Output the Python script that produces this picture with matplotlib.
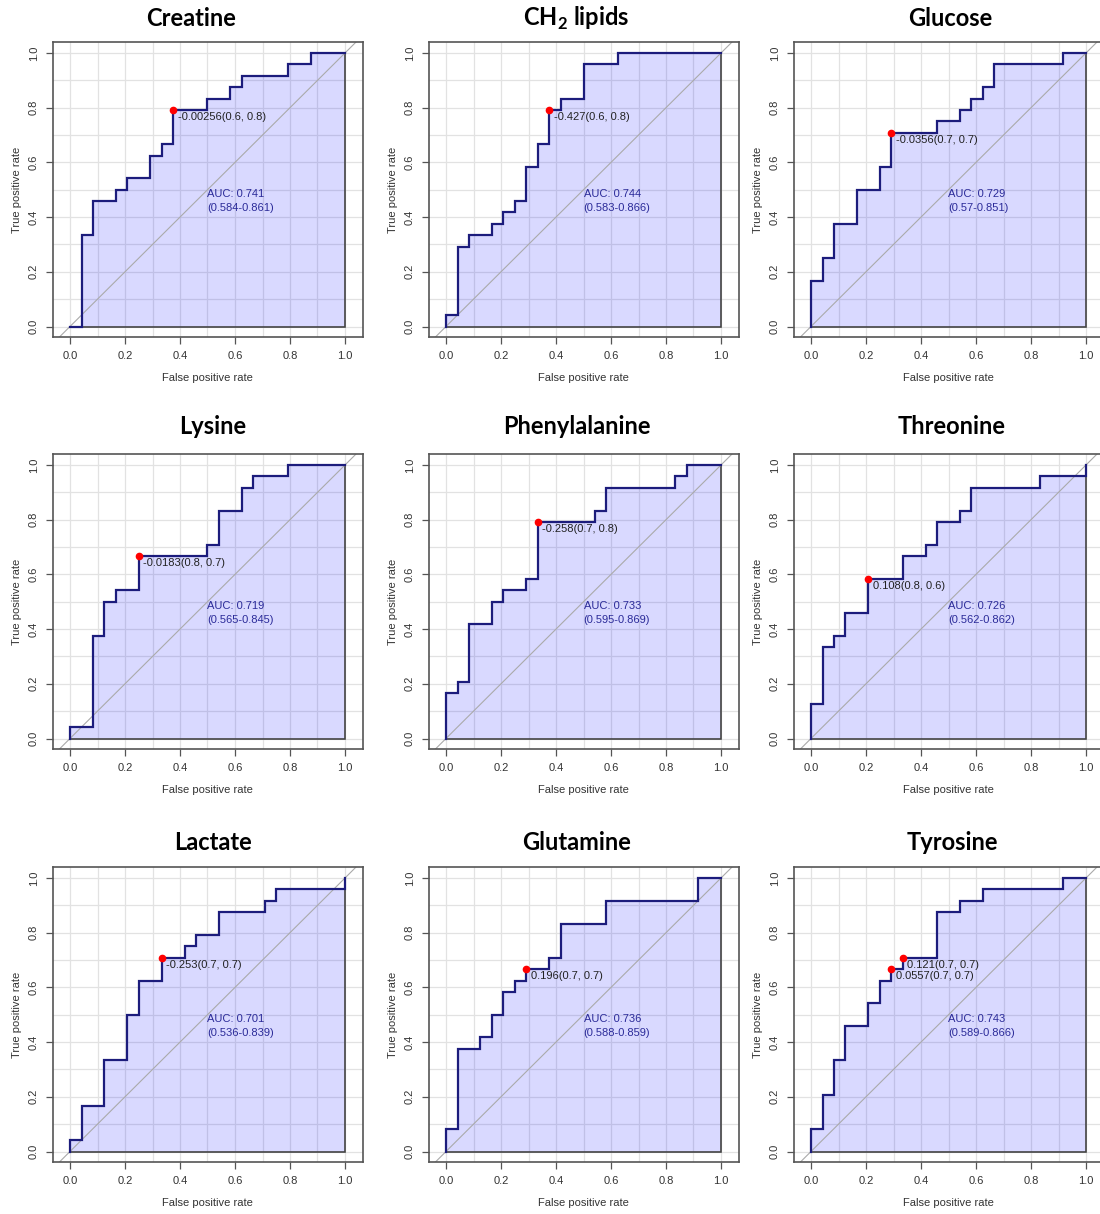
import numpy as np
import matplotlib
matplotlib.use("Agg")
import matplotlib.pyplot as plt

plt.rcParams["font.family"] = ["Liberation Sans", "DejaVu Sans"]
plt.rcParams["mathtext.fontset"] = "custom"
plt.rcParams["mathtext.rm"] = "Lato"
plt.rcParams["mathtext.bf"] = "Lato:bold"

# ROC step data: at each FPR the TPR jumps to the listed value (post step)
CREATINE_FPR = [0.000, 0.042, 0.083, 0.167, 0.208, 0.292, 0.333, 0.375, 0.500, 0.583, 0.625, 0.792, 0.875, 1.000]
CREATINE_TPR = [0.000, 0.333, 0.458, 0.500, 0.542, 0.625, 0.667, 0.792, 0.833, 0.875, 0.917, 0.958, 1.000, 1.000]

CH2_FPR = [0.000, 0.000, 0.042, 0.083, 0.167, 0.208, 0.250, 0.292, 0.333, 0.375, 0.417, 0.500, 0.625, 1.000]
CH2_TPR = [0.000, 0.042, 0.292, 0.333, 0.375, 0.417, 0.458, 0.583, 0.667, 0.792, 0.833, 0.958, 1.000, 1.000]

GLUCOSE_FPR = [0.000, 0.000, 0.042, 0.083, 0.167, 0.250, 0.292, 0.458, 0.542, 0.583, 0.625, 0.667, 0.917, 1.000]
GLUCOSE_TPR = [0.000, 0.167, 0.250, 0.375, 0.500, 0.583, 0.708, 0.750, 0.792, 0.833, 0.875, 0.958, 1.000, 1.000]

LYSINE_FPR = [0.000, 0.000, 0.083, 0.125, 0.167, 0.250, 0.500, 0.542, 0.625, 0.667, 0.792, 1.000]
LYSINE_TPR = [0.000, 0.042, 0.375, 0.500, 0.542, 0.667, 0.708, 0.833, 0.917, 0.958, 1.000, 1.000]

PHENYL_FPR = [0.000, 0.000, 0.042, 0.083, 0.167, 0.208, 0.292, 0.333, 0.542, 0.583, 0.833, 0.875, 1.000]
PHENYL_TPR = [0.000, 0.167, 0.208, 0.417, 0.500, 0.542, 0.583, 0.792, 0.833, 0.917, 0.958, 1.000, 1.000]

THREONINE_FPR = [0.000, 0.000, 0.042, 0.083, 0.125, 0.208, 0.333, 0.417, 0.458, 0.542, 0.583, 0.833, 1.000]
THREONINE_TPR = [0.000, 0.125, 0.333, 0.375, 0.458, 0.583, 0.667, 0.708, 0.792, 0.833, 0.917, 0.958, 1.000]

LACTATE_FPR = [0.000, 0.000, 0.042, 0.125, 0.208, 0.250, 0.333, 0.417, 0.458, 0.542, 0.708, 0.750, 1.000]
LACTATE_TPR = [0.000, 0.042, 0.167, 0.333, 0.500, 0.625, 0.708, 0.750, 0.792, 0.875, 0.917, 0.958, 1.000]

GLUTAMINE_FPR = [0.000, 0.000, 0.042, 0.125, 0.167, 0.208, 0.250, 0.292, 0.375, 0.417, 0.583, 0.917, 1.000]
GLUTAMINE_TPR = [0.000, 0.083, 0.375, 0.417, 0.500, 0.583, 0.625, 0.667, 0.708, 0.833, 0.917, 1.000, 1.000]

TYROSINE_FPR = [0.000, 0.000, 0.042, 0.083, 0.125, 0.208, 0.250, 0.292, 0.333, 0.458, 0.542, 0.625, 0.917, 1.000]
TYROSINE_TPR = [0.000, 0.083, 0.208, 0.333, 0.458, 0.542, 0.625, 0.667, 0.708, 0.875, 0.917, 0.958, 1.000, 1.000]

TITLES = ["Creatine", r"CH$_\mathbf{2}$ lipids", "Glucose",
          "Lysine", "Phenylalanine", "Threonine",
          "Lactate", "Glutamine", "Tyrosine"]
CURVES = [
    (CREATINE_FPR, CREATINE_TPR), (CH2_FPR, CH2_TPR), (GLUCOSE_FPR, GLUCOSE_TPR),
    (LYSINE_FPR, LYSINE_TPR), (PHENYL_FPR, PHENYL_TPR), (THREONINE_FPR, THREONINE_TPR),
    (LACTATE_FPR, LACTATE_TPR), (GLUTAMINE_FPR, GLUTAMINE_TPR), (TYROSINE_FPR, TYROSINE_TPR),
]
AUC = [0.741, 0.744, 0.729, 0.719, 0.733, 0.726, 0.701, 0.736, 0.743]
AUC_CI = ["0.584-0.861", "0.583-0.866", "0.57-0.851",
          "0.565-0.845", "0.595-0.869", "0.562-0.862",
          "0.536-0.839", "0.588-0.859", "0.589-0.866"]
BEST = [
    [(0.375, 0.792, "-0.00256(0.6, 0.8)")],
    [(0.375, 0.792, "-0.427(0.6, 0.8)")],
    [(0.292, 0.708, "-0.0356(0.7, 0.7)")],
    [(0.250, 0.667, "-0.0183(0.8, 0.7)")],
    [(0.333, 0.792, "-0.258(0.7, 0.8)")],
    [(0.208, 0.583, "0.108(0.8, 0.6)")],
    [(0.333, 0.708, "-0.253(0.7, 0.7)")],
    [(0.292, 0.667, "0.196(0.7, 0.7)")],
    [(0.333, 0.708, "0.121(0.7, 0.7)"), (0.292, 0.667, "0.0557(0.7, 0.7)")],
]

W, H = 1100, 1214
COL_ZERO = [70, 446, 811]      # pixel x of fpr = 0
ROW_ONE = [53, 465, 878]       # pixel y of tpr = 1
TITLE_X = [[191, 576, 950], [213, 577, 952], [213, 577, 952]]
TITLE_Y = [18, 427, 843]
UNIT_X, UNIT_Y = 275.0, 273.5
XLIM = (-0.063, 1.065)
YLIM = (-0.04, 1.04)

LINE = "#1c1c7c"
FRAME = "#555555"

fig = plt.figure(figsize=(W / 100, H / 100), dpi=100)

for i, (title, (fpr, tpr)) in enumerate(zip(TITLES, CURVES)):
    r, c = divmod(i, 3)
    left = COL_ZERO[c] + XLIM[0] * UNIT_X
    top = ROW_ONE[r] - (YLIM[1] - 1) * UNIT_Y
    aw = (XLIM[1] - XLIM[0]) * UNIT_X
    ah = (YLIM[1] - YLIM[0]) * UNIT_Y
    ax = fig.add_axes([left / W, 1 - (top + ah) / H, aw / W, ah / H])
    ax.set_xlim(*XLIM)
    ax.set_ylim(*YLIM)

    for g in np.arange(0, 1.01, 0.1):
        ax.axvline(g, color="#e2e2e2", lw=0.9, zorder=0)
        ax.axhline(g, color="#e2e2e2", lw=0.9, zorder=0)

    fpr = np.asarray(fpr)
    tpr = np.asarray(tpr)
    xs = np.repeat(fpr, 2)[1:]
    ys = np.repeat(tpr, 2)[:-1]
    px = np.concatenate([xs, [1.0, 0.0]])
    py = np.concatenate([ys, [0.0, 0.0]])
    ax.fill(px, py, facecolor=(0, 0, 1, 0.15), edgecolor="#444444", lw=1.2, zorder=1)
    ax.axline((0, 0), (1, 1), color="#aaaaaa", lw=0.8, zorder=2)
    ax.plot(xs, ys, color=LINE, lw=1.6, zorder=3, solid_joinstyle="miter")

    for bx, by, lab in BEST[i]:
        ax.plot(bx, by, "o", color="#ff0000", ms=4.5, zorder=4)
        ax.text(bx + 0.016, by - 0.026, lab, fontsize=8, color="#222222",
                ha="left", va="center", zorder=5)

    ax.text(0.5, 0.486, f"AUC: {AUC[i]}", fontsize=8, color="#2b2b99", ha="left", va="center")
    ax.text(0.5, 0.434, f"({AUC_CI[i]})", fontsize=8, color="#2b2b99", ha="left", va="center")

    ticks = [0.0, 0.2, 0.4, 0.6, 0.8, 1.0]
    ax.set_xticks(ticks)
    ax.set_yticks(ticks)
    ax.set_xticklabels([f"{t:.1f}" for t in ticks])
    ax.set_yticklabels([f"{t:.1f}" for t in ticks], rotation=90, va="center")
    ax.tick_params(direction="out", length=5, width=0.9, colors=FRAME,
                   labelsize=8, labelcolor="#333333", pad=5)
    for sp in ax.spines.values():
        sp.set_color(FRAME)
        sp.set_linewidth(1.2)

    ax.text(0.5, -0.136, "False positive rate", transform=ax.transAxes,
            fontsize=8, color="#333333", ha="center", va="center")
    ax.text(-0.116, 0.5, "True positive rate", transform=ax.transAxes,
            fontsize=8, color="#333333", ha="center", va="center", rotation=90)

    fig.text(TITLE_X[r][c] / W, 1 - TITLE_Y[r] / H, title, fontsize=17,
             fontweight="bold", family="Lato", ha="center", va="center")

fig.savefig("out.png", dpi=100, facecolor="white")
